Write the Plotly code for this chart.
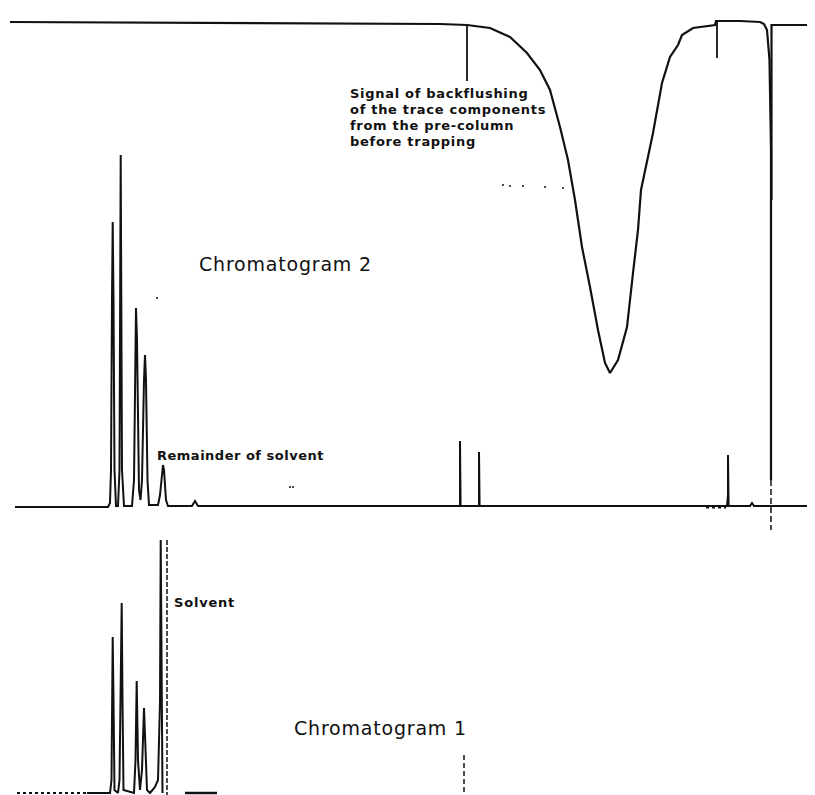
import plotly.graph_objects as go

# ---------------- data (time axis ~ chart units, signal in plot units, downward = larger) ----------
# Upper trace: backflushing signal
top_time = [10, 100, 200, 300, 400, 440, 467, 490, 510, 527, 540, 550, 560, 568, 575, 582, 590,
            598, 605, 610, 618, 627, 633, 638, 641, 653, 662, 670, 678, 682, 693, 705, 715,
            716, 740, 760, 764, 767, 769.5, 771, 771]
top_signal = [22, 22.5, 23, 23.5, 24, 24, 25, 28, 37, 53, 70, 90, 127, 160, 200, 247, 287,
              330, 363, 373, 360, 327, 273, 230, 190, 133, 83, 57, 45, 35, 28, 26, 25,
              21, 21, 22, 24, 30, 60, 150, 480]
# backflush marker ticks (time, top, bottom)
tick_time = [467, 717]
tick_top = [25, 22]
tick_bottom = [81, 58]
# step at right end of upper trace
step_time = [771.5, 771.5, 815]
step_signal = [200, 25, 25]

# Chromatogram 2
c2_time = [15, 108, 110, 111, 112, 112.7, 113.5, 114.5, 116, 118, 119.5, 120.2, 120.7, 121.3, 122,
           124, 132, 134, 135.5, 136, 137, 139, 140.5, 142, 144, 145, 146, 147.5, 149, 158, 160,
           162, 163, 164, 166, 168, 192, 195, 198, 460, 460, 460.6, 479, 479, 479.6, 727, 728,
           728, 728.6, 730, 750, 752, 754, 815]
c2_signal = [507, 507, 503, 470, 300, 222, 300, 470, 506, 506, 470, 300, 155, 300, 470,
             506, 506, 480, 330, 308, 340, 490, 500, 480, 380, 355, 380, 480, 505, 505, 495,
             470, 465, 470, 500, 506, 506, 501, 506, 506, 441, 506, 506, 452, 506, 506, 495,
             455, 506, 506, 506, 503, 506, 506]
c2_noise_time = [706, 726]
c2_noise_signal = [507, 507]

# Chromatogram 1
c1_time = [87, 110, 111.5, 112, 112.7, 113.5, 114.5, 118, 119.5, 120.5, 121.7, 122.5, 123.5,
           134, 135.5, 136.7, 138, 140, 142, 144, 145.5, 147, 150, 155, 158, 159.3, 160, 160.7,
           161.5, 162.5]
c1_signal = [793, 793, 780, 700, 637, 700, 790, 793, 780, 700, 603, 700, 790,
             793, 760, 681, 760, 790, 770, 708, 760, 790, 793, 787, 780, 730, 702, 540,
             700, 793]
c1_lead_time = [17, 87]
c1_lead_signal = [793, 793]
c1_tail_time = [185, 217]
c1_tail_signal = [793, 793]

# dashed reference markers (time, from, to)
mark_time = [771, 167, 464]
mark_from = [480, 540, 755]
mark_to = [530, 795, 795]

# stray dots on the recording
dot_time = [503, 510, 523, 545, 563, 290, 293, 157]
dot_signal = [185, 186, 186, 187, 188, 487, 487, 298]

# labels
labels = ["Signal of backflushing", "of the trace components", "from the pre-column",
          "before trapping", "Chromatogram 2", "Remainder of solvent", "Solvent", "Chromatogram 1"]
label_time = [348, 348, 348, 348, 197, 155, 172, 292]
label_signal = [93, 109, 125, 141, 264, 455, 602, 728]

# ---------------- figure ----------------
fig = go.Figure()
ink = "#111111"

def line(x, y, w=2, dash="solid"):
    fig.add_trace(go.Scatter(x=x, y=y, mode="lines", line=dict(color=ink, width=w, dash=dash),
                             hoverinfo="skip", showlegend=False))

line(top_time, top_signal, 2.2)
for t, a, b in zip(tick_time, tick_top, tick_bottom):
    line([t, t], [a, b], 1.8)
line(step_time, step_signal, 2.2)
line(c2_time, c2_signal, 2)
line(c2_noise_time, c2_noise_signal, 3, "dot")
line(c1_time, c1_signal, 2)
line(c1_lead_time, c1_lead_signal, 2, "dot")
line(c1_tail_time, c1_tail_signal, 2.5)
dashes = ["6px,3px", "5px,2px", "5px,3px"]
for t, a, b, d in zip(mark_time, mark_from, mark_to, dashes):
    line([t, t], [a, b], 1.5, d)
fig.add_trace(go.Scatter(x=dot_time, y=dot_signal, mode="markers",
                         marker=dict(color=ink, size=2), hoverinfo="skip", showlegend=False))

styles = [
    (13, "bold", 0.7), (13, "bold", 0.7), (13, "bold", 0.7), (13, "bold", 0.7),
    (19, "normal", 0.8), (13, "bold", 0.5), (13, "bold", 0.8), (19, "normal", 0.8),
]
for txt, x, y, (sz, wt, ls) in zip(labels, label_time, label_signal, styles):
    t = f'<span style="letter-spacing:{ls}px">{txt}</span>'
    if wt == "bold":
        t = "<b>" + t + "</b>"
    fig.add_annotation(x=x, y=y, text=t, showarrow=False, xanchor="left", yanchor="middle",
                       font=dict(family="DejaVu Sans", size=sz, color=ink), align="left")

# the page body has an 8px margin; the figure fills the rest of the 815x795 window
fig.update_layout(
    width=807, height=787, margin=dict(l=0, r=0, t=0, b=0),
    paper_bgcolor="white", plot_bgcolor="white",
    xaxis=dict(range=[8, 815], visible=False, fixedrange=True),
    yaxis=dict(range=[795, 8], visible=False, fixedrange=True),
)
fig.write_html("out.html")
